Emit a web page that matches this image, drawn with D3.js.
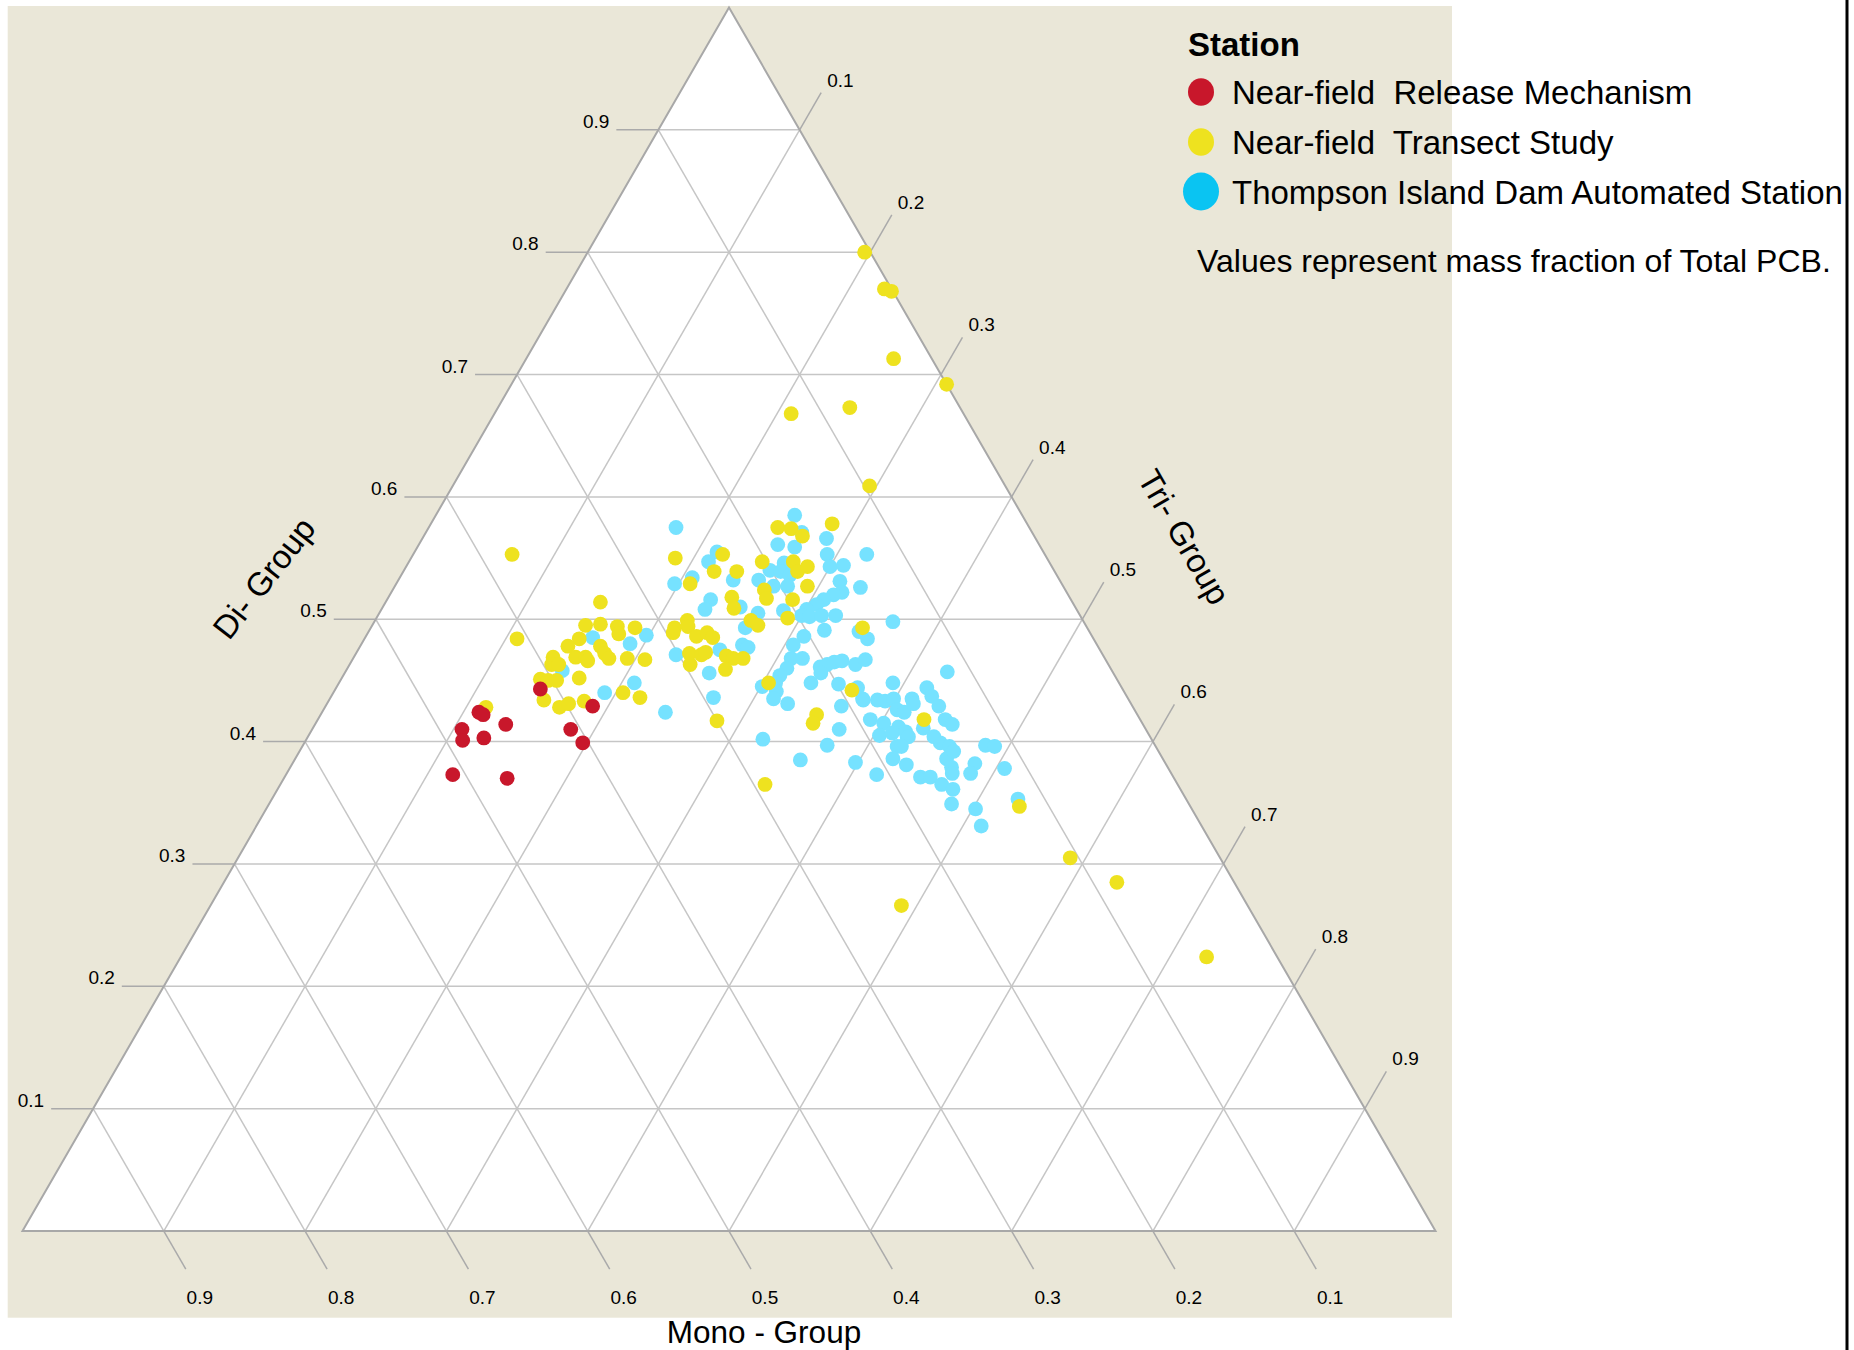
<!DOCTYPE html>
<html>
<head>
<meta charset="utf-8">
<script src="https://cdn.jsdelivr.net/npm/d3@7/dist/d3.min.js"></script>
<style>
  html, body { margin: 0; padding: 0; background: #ffffff; }
  svg { display: block; }
  text { font-family: "Liberation Sans", Arial, Helvetica, sans-serif; fill: #000; }
</style>
</head>
<body>
<svg id="chart" width="1854" height="1350"></svg>
<script>
// Ternary composition of PCB homologue groups, [mono, di, tri] mass fractions.
const releaseMechanism = [
  [0.413,0.443,0.145],[0.382,0.429,0.189],[0.465,0.424,0.111],[0.464,0.422,0.115],
  [0.451,0.414,0.135],[0.485,0.410,0.106],[0.488,0.401,0.111],[0.472,0.403,0.125],
  [0.407,0.410,0.183],[0.404,0.399,0.197],[0.509,0.373,0.118],[0.472,0.370,0.158]
];

const transectStudy = [
  [0.004,0.800,0.196],[0.005,0.770,0.225],[0.001,0.768,0.231],[0.027,0.713,0.260],
  [0.000,0.692,0.308],[0.078,0.673,0.249],[0.122,0.668,0.210],[0.096,0.609,0.295],
  [0.377,0.553,0.070],[0.264,0.550,0.187],[0.178,0.575,0.247],[0.169,0.574,0.257],
  [0.164,0.568,0.268],[0.138,0.578,0.284],[0.229,0.553,0.219],[0.241,0.539,0.220],
  [0.225,0.539,0.236],[0.203,0.547,0.250],[0.181,0.547,0.272],[0.182,0.539,0.279],
  [0.173,0.543,0.284],[0.182,0.527,0.292],[0.264,0.529,0.208],[0.213,0.524,0.263],
  [0.215,0.517,0.268],[0.239,0.518,0.243],[0.242,0.509,0.249],[0.197,0.516,0.287],
  [0.208,0.501,0.291],[0.234,0.499,0.266],[0.233,0.495,0.273],[0.334,0.514,0.152],
  [0.354,0.495,0.151],[0.343,0.496,0.161],[0.332,0.494,0.174],[0.334,0.488,0.178],
  [0.320,0.493,0.187],[0.408,0.484,0.108],[0.364,0.484,0.152],[0.376,0.478,0.147],
  [0.352,0.478,0.170],[0.353,0.472,0.176],[0.351,0.468,0.181],[0.374,0.469,0.157],
  [0.367,0.469,0.164],[0.367,0.466,0.167],[0.390,0.469,0.141],[0.393,0.463,0.143],
  [0.390,0.463,0.148],[0.338,0.468,0.194],[0.326,0.467,0.207],[0.292,0.493,0.215],
  [0.295,0.489,0.216],[0.280,0.499,0.221],[0.282,0.494,0.224],[0.280,0.486,0.234],
  [0.271,0.489,0.240],[0.269,0.485,0.246],[0.292,0.472,0.236],[0.295,0.463,0.241],
  [0.284,0.471,0.245],[0.280,0.473,0.247],[0.267,0.470,0.263],[0.263,0.468,0.269],
  [0.256,0.468,0.276],[0.273,0.459,0.268],[0.408,0.451,0.141],[0.403,0.450,0.147],
  [0.396,0.450,0.153],[0.380,0.452,0.168],[0.414,0.434,0.152],[0.406,0.428,0.166],
  [0.398,0.431,0.171],[0.386,0.433,0.181],[0.355,0.440,0.205],[0.345,0.436,0.219],
  [0.458,0.428,0.114],[0.248,0.448,0.304],[0.160,0.493,0.348],[0.192,0.442,0.366],
  [0.228,0.422,0.351],[0.234,0.415,0.352],[0.300,0.417,0.283],[0.153,0.418,0.429],
  [0.292,0.365,0.343],[0.246,0.266,0.489],[0.121,0.347,0.532],[0.106,0.305,0.589],
  [0.083,0.285,0.632],[0.050,0.224,0.726]
];

const thompsonIsland = [
  [0.250,0.575,0.175],[0.161,0.585,0.254],[0.163,0.571,0.266],[0.148,0.566,0.286],
  [0.185,0.561,0.254],[0.174,0.559,0.267],[0.154,0.553,0.293],[0.126,0.553,0.321],
  [0.231,0.555,0.214],[0.241,0.547,0.212],[0.189,0.546,0.266],[0.157,0.543,0.300],
  [0.147,0.544,0.309],[0.201,0.540,0.259],[0.195,0.539,0.267],[0.189,0.536,0.275],
  [0.213,0.532,0.255],[0.206,0.527,0.268],[0.196,0.527,0.278],[0.231,0.532,0.237],
  [0.259,0.534,0.207],[0.274,0.529,0.197],[0.156,0.531,0.313],[0.144,0.526,0.330],
  [0.159,0.522,0.319],[0.166,0.520,0.314],[0.176,0.516,0.309],[0.182,0.512,0.306],
  [0.191,0.508,0.301],[0.197,0.503,0.300],[0.192,0.502,0.306],[0.183,0.503,0.314],
  [0.172,0.503,0.324],[0.208,0.507,0.285],[0.227,0.505,0.268],[0.255,0.516,0.229],
  [0.262,0.508,0.229],[0.237,0.510,0.253],[0.242,0.493,0.265],[0.187,0.491,0.322],
  [0.135,0.498,0.367],[0.204,0.486,0.310],[0.159,0.484,0.356],[0.164,0.490,0.347],
  [0.215,0.479,0.306],[0.252,0.479,0.270],[0.248,0.477,0.275],[0.269,0.475,0.256],
  [0.302,0.471,0.227],[0.222,0.468,0.310],[0.214,0.468,0.318],[0.229,0.460,0.311],
  [0.205,0.461,0.334],[0.200,0.463,0.338],[0.194,0.465,0.342],[0.187,0.466,0.347],
  [0.180,0.463,0.358],[0.171,0.467,0.363],[0.208,0.456,0.337],[0.237,0.454,0.309],
  [0.244,0.448,0.309],[0.254,0.445,0.301],[0.246,0.441,0.313],[0.251,0.435,0.314],
  [0.242,0.431,0.326],[0.218,0.448,0.334],[0.199,0.447,0.354],[0.186,0.444,0.369],
  [0.187,0.435,0.377],[0.206,0.429,0.365],[0.216,0.410,0.373],[0.232,0.397,0.371],
  [0.275,0.402,0.323],[0.293,0.436,0.271],[0.286,0.456,0.258],[0.333,0.424,0.243],
  [0.343,0.448,0.209],[0.368,0.440,0.192],[0.315,0.487,0.198],[0.330,0.480,0.190],
  [0.354,0.485,0.161],[0.389,0.458,0.153],[0.257,0.385,0.358],[0.219,0.383,0.398],
  [0.160,0.448,0.392],[0.117,0.457,0.426],[0.179,0.434,0.388],[0.173,0.433,0.394],
  [0.166,0.435,0.399],[0.153,0.435,0.412],[0.138,0.444,0.418],[0.138,0.437,0.425],
  [0.138,0.429,0.434],[0.168,0.426,0.406],[0.163,0.424,0.412],[0.183,0.415,0.402],
  [0.191,0.418,0.391],[0.191,0.405,0.404],[0.174,0.412,0.414],[0.172,0.404,0.424],
  [0.183,0.396,0.421],[0.157,0.411,0.432],[0.138,0.418,0.444],[0.136,0.414,0.451],
  [0.151,0.399,0.450],[0.146,0.396,0.458],[0.190,0.386,0.423],[0.210,0.373,0.418],
  [0.184,0.381,0.435],[0.179,0.371,0.450],[0.172,0.371,0.457],[0.167,0.365,0.468],
  [0.161,0.361,0.478],[0.168,0.349,0.483],[0.153,0.386,0.461],[0.146,0.392,0.463],
  [0.153,0.404,0.443],[0.182,0.407,0.412],[0.154,0.431,0.415],[0.188,0.434,0.378],
  [0.171,0.408,0.421],[0.171,0.404,0.425],[0.153,0.379,0.468],[0.155,0.374,0.471],
  [0.135,0.382,0.483],[0.143,0.374,0.484],[0.120,0.397,0.483],[0.114,0.396,0.490],
  [0.116,0.378,0.506],[0.119,0.353,0.528],[0.154,0.345,0.502],[0.156,0.331,0.513],
  [0.180,0.396,0.424]
];

const gridTicks = [0.1, 0.2, 0.3, 0.4, 0.5, 0.6, 0.7, 0.8, 0.9];
const axisTitles = { mono: "Mono - Group", di: "Di- Group", tri: "Tri- Group" };
const legendTitle = "Station";
const seriesNames = [
  "Near-field  Release Mechanism",
  "Near-field  Transect Study",
  "Thompson Island Dam Automated Station"
];
const noteText = "Values represent mass fraction of Total PCB.";

const svg = d3.select("#chart");

// Triangle frame: Di vertex at top, Mono bottom-left, Tri bottom-right.
const left = 22.5, right = 1435.5, base = 1231, apex = 7.5;
const xs = d3.scaleLinear().domain([0, 1]).range([left, right]);   // tri + di/2
const ys = d3.scaleLinear().domain([0, 1]).range([base, apex]);    // di
const pt = (m, d, t) => [xs(t + d / 2), ys(d)];

// Panel background
svg.append("rect").attr("x", 0).attr("y", 0).attr("width", 1854).attr("height", 1350).attr("fill", "#ffffff");
svg.append("rect").attr("x", 7.7).attr("y", 6).attr("width", 1444.3).attr("height", 1311.7).attr("fill", "#EAE7D8");
svg.append("line").attr("x1", 1847).attr("x2", 1847).attr("y1", 0).attr("y2", 1350)
  .attr("stroke", "#000").attr("stroke-width", 3);

const corners = [pt(0, 1, 0), pt(1, 0, 0), pt(0, 0, 1)];
svg.append("polygon").attr("points", corners.map(p => p.join(",")).join(" "))
  .attr("fill", "#ffffff");

// Grid lines for each component
const grid = svg.append("g").attr("stroke", "#C6C6C6").attr("stroke-width", 1.5).attr("fill", "none");
gridTicks.forEach(v => {
  const segs = [
    [pt(1 - v, v, 0), pt(0, v, 1 - v)],   // constant Di
    [pt(1 - v, 0, v), pt(0, 1 - v, v)],   // constant Tri
    [pt(v, 0, 1 - v), pt(v, 1 - v, 0)]    // constant Mono
  ];
  segs.forEach(([a, b]) => grid.append("line")
    .attr("x1", a[0]).attr("y1", a[1]).attr("x2", b[0]).attr("y2", b[1]));
});

svg.append("polygon").attr("points", corners.map(p => p.join(",")).join(" "))
  .attr("fill", "none").attr("stroke", "#A8A8A8").attr("stroke-width", 2);

// Ticks and tick labels
const ticks = svg.append("g").attr("stroke", "#AAAAAA").attr("stroke-width", 1.5);
const labels = svg.append("g").attr("font-size", 19);
const c60 = 0.5, s60 = Math.sqrt(3) / 2;
gridTicks.forEach(v => {
  const lbl = d3.format(".1f")(v);
  // Di (left edge): horizontal ticks
  const a = pt(1 - v, v, 0);
  ticks.append("line").attr("x1", a[0]).attr("y1", a[1]).attr("x2", a[0] - 42).attr("y2", a[1]);
  labels.append("text").attr("x", a[0] - 49).attr("y", a[1] - 2).attr("text-anchor", "end").text(lbl);
  // Tri (right edge): ticks continue the constant-Tri lines
  const b = pt(0, 1 - v, v);
  const be = [b[0] + 43 * c60, b[1] - 43 * s60];
  ticks.append("line").attr("x1", b[0]).attr("y1", b[1]).attr("x2", be[0]).attr("y2", be[1]);
  labels.append("text").attr("x", be[0] + 6).attr("y", be[1] - 6).text(lbl);
  // Mono (base): ticks continue the constant-Mono lines
  const c = pt(v, 0, 1 - v);
  const ce = [c[0] + 44 * c60, c[1] + 44 * s60];
  ticks.append("line").attr("x1", c[0]).attr("y1", c[1]).attr("x2", ce[0]).attr("y2", ce[1]);
  labels.append("text").attr("x", ce[0] + 14).attr("y", ce[1] + 35).attr("text-anchor", "middle").text(lbl);
});

// Axis titles
svg.append("text").attr("transform", "translate(264,578) rotate(-52)")
  .attr("text-anchor", "middle").attr("dominant-baseline", "central")
  .attr("font-size", 33).text(axisTitles.di);
svg.append("text").attr("transform", "translate(1184,537) rotate(60)")
  .attr("text-anchor", "middle").attr("dominant-baseline", "central")
  .attr("font-size", 33).text(axisTitles.tri);
svg.append("text").attr("x", 764).attr("y", 1343).attr("text-anchor", "middle")
  .attr("font-size", 31.5).text(axisTitles.mono);

// Data points
const colors = ["#C8172B", "#EEE21F", "#76E2FF"];
const layers = [
  { data: thompsonIsland, color: colors[2] },
  { data: transectStudy, color: colors[1] },
  { data: releaseMechanism, color: colors[0] }
];
layers.forEach(layer => {
  svg.append("g").selectAll("circle").data(layer.data).join("circle")
    .attr("cx", d => pt(d[0], d[1], d[2])[0])
    .attr("cy", d => pt(d[0], d[1], d[2])[1])
    .attr("r", 7.4)
    .attr("fill", layer.color);
});

// Legend
const legend = svg.append("g");
legend.append("text").attr("x", 1188).attr("y", 55.5).attr("font-size", 33)
  .attr("font-weight", "bold").text(legendTitle);
const legendRows = [
  { name: seriesNames[0], color: colors[0], r: 13, y: 92 },
  { name: seriesNames[1], color: colors[1], r: 13, y: 142 },
  { name: seriesNames[2], color: "#0AC4F2", r: 18, y: 191.5 }
];
legendRows.forEach(row => {
  legend.append("ellipse").attr("cx", 1201).attr("cy", row.y)
    .attr("rx", row.r).attr("ry", row.r * 1.05).attr("fill", row.color);
  legend.append("text").attr("x", 1232).attr("y", row.y + 12).attr("font-size", 33)
    .style("white-space", "pre").text(row.name);
});
legend.append("text").attr("x", 1197).attr("y", 271.5).attr("font-size", 32).text(noteText);
</script>
</body>
</html>
